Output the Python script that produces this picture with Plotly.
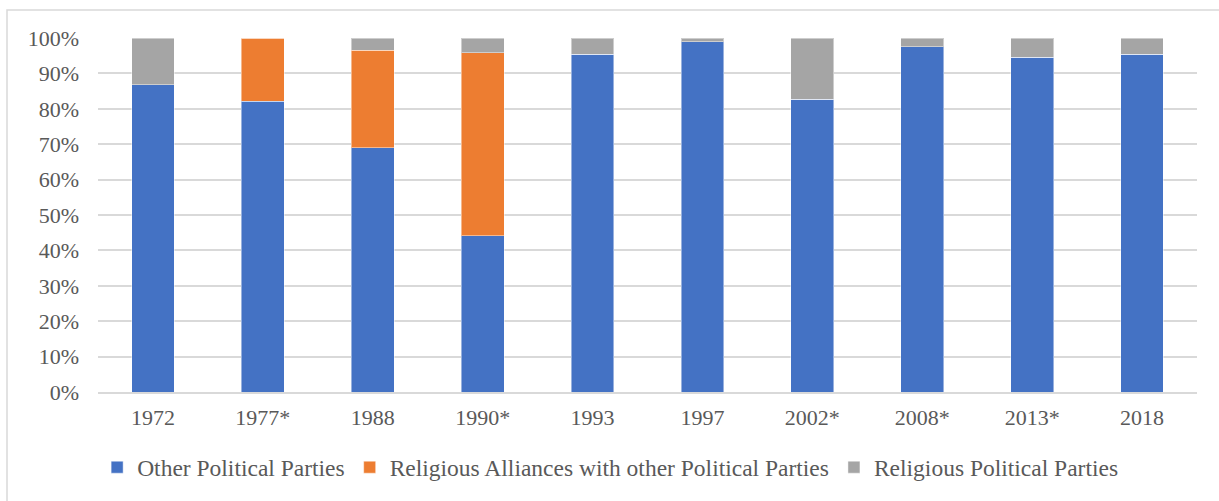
import plotly.graph_objects as go

# Election years (asterisk marks the annotated elections)
years = ["1972", "1977*", "1988", "1990*", "1993", "1997", "2002*", "2008*", "2013*", "2018"]

# Share of seats per category, in percent
other_parties = [86.8, 82.1, 69.0, 44.1, 95.4, 99.0, 82.7, 97.6, 94.5, 95.4]
religious_alliances = [0.0, 17.9, 27.5, 51.7, 0.0, 0.0, 0.0, 0.0, 0.0, 0.0]
religious_parties = [13.2, 0.0, 3.5, 4.2, 4.6, 1.0, 17.3, 2.4, 5.5, 4.6]

series = [
    ("Other Political Parties", other_parties, "#4472C4"),
    ("Religious Alliances with other Political Parties", religious_alliances, "#ED7D31"),
    ("Religious Political Parties", religious_parties, "#A5A5A5"),
]

FONT = "Liberation Serif"
TEXT = "#595959"
GRID = "#D9D9D9"

fig = go.Figure()
for name, vals, color in series:
    fig.add_trace(go.Bar(
        x=years,
        y=[v / 100 for v in vals],
        name=name,
        marker=dict(color=color, line=dict(color="rgba(255,255,255,0.45)", width=1)),
    ))

W, H = 1219, 501
L, R, T, B = 98, 22, 38, 109

fig.update_layout(
    width=W, height=H,
    margin=dict(l=L, r=R, t=T, b=B),
    barmode="stack",
    bargap=0.61,
    plot_bgcolor="white",
    paper_bgcolor="white",
    font=dict(family=FONT, size=22, color=TEXT),
    legend=dict(
        orientation="h",
        x=0.466, xanchor="center",
        y=-0.213, yanchor="middle",
        font=dict(family=FONT, size=23.5, color=TEXT),
        itemwidth=30,
        traceorder="normal",
    ),
    xaxis=dict(
        showgrid=False,
        showline=True, linecolor=GRID, linewidth=2,
        ticks="", ticklabelstandoff=5,
        tickfont=dict(family=FONT, size=22, color=TEXT),
    ),
    yaxis=dict(
        range=[0, 1.0],
        dtick=0.1, tick0=0,
        tickformat=".0%",
        showgrid=True, gridcolor=GRID, gridwidth=1.5,
        zeroline=False,
        showline=False,
        ticks="", ticklabelstandoff=18,
        tickfont=dict(family=FONT, size=22, color=TEXT),
    ),
)

# Chart frame (top and left edges visible, continuing past the page)
plot_w = W - L - R
plot_h = H - T - B
fig.add_shape(
    type="rect", xref="paper", yref="paper",
    x0=(7 - L) / plot_w, x1=(W + 10 - L) / plot_w,
    y0=-(H + 10 - (H - B)) / plot_h, y1=1 + (T - 10) / plot_h,
    line=dict(color=GRID, width=1.5),
    fillcolor="rgba(0,0,0,0)",
    layer="below",
)

fig.write_html("out.html")
